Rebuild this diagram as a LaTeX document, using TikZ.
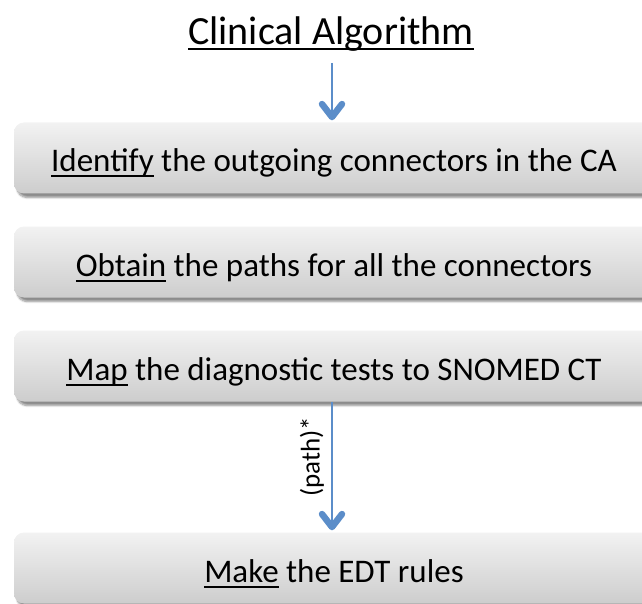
\documentclass[tikz,border=0pt]{standalone}
\usepackage{fontspec}
\setmainfont{Carlito}
\usetikzlibrary{arrows.meta,shadows.blur}
\definecolor{arrowblue}{HTML}{5B8DC9}
\definecolor{boxtop}{HTML}{F2F2F2}
\definecolor{boxbot}{HTML}{CDCDCD}
\newlength\ulw
\newcommand\myul[1]{\settowidth\ulw{#1}\rlap{\rule[-5.5pt]{\ulw}{2pt}}#1}
\tikzset{
  stepbox/.style={rounded corners=10pt, top color=boxtop, bottom color=boxbot,
    minimum width=640pt, minimum height=71pt, inner sep=0pt,
    text height=31pt, text depth=3pt,
    font=\fontsize{33}{38}\selectfont,
    blur shadow={shadow xshift=3pt, shadow yshift=-4pt, shadow blur steps=8, shadow opacity=45}},
  chev/.tip={Straight Barb[line cap=round, line join=round, length=13pt 0, width=20pt 0, line width=6.5pt 0]},
  flow/.style={draw=arrowblue, line width=1.2pt, -chev, shorten >=2pt},
}
\begin{document}
\begin{tikzpicture}[x=1pt,y=-1pt]
\useasboundingbox (0,0) rectangle (642,604);
\clip (0,0) rectangle (642,604);
\node[anchor=base, inner sep=0pt, font=\fontsize{40}{46}\selectfont] (title) at (331,45) {\myul{Clinical Algorithm}};
\node[stepbox] (b1) at (334,158) {\myul{Identify} the outgoing connectors in the CA};
\node[stepbox] (b2) at (334,262) {\myul{Obtain} the paths for all the connectors};
\node[stepbox] (b3) at (334,366) {\myul{Map} the diagnostic tests to SNOMED CT};
\node[stepbox] (b4) at (334,568) {\myul{Make} the EDT rules};
\coordinate (a1s) at (332,63);
\draw[flow] (a1s) -- (a1s |- b1.north);
\draw[flow] (b3.south -| a1s) -- (b4.north -| a1s);
\node[rotate=90, font=\fontsize{27}{32}\selectfont] (plabel) at (312,457) {(path)*};
\end{tikzpicture}
\end{document}
